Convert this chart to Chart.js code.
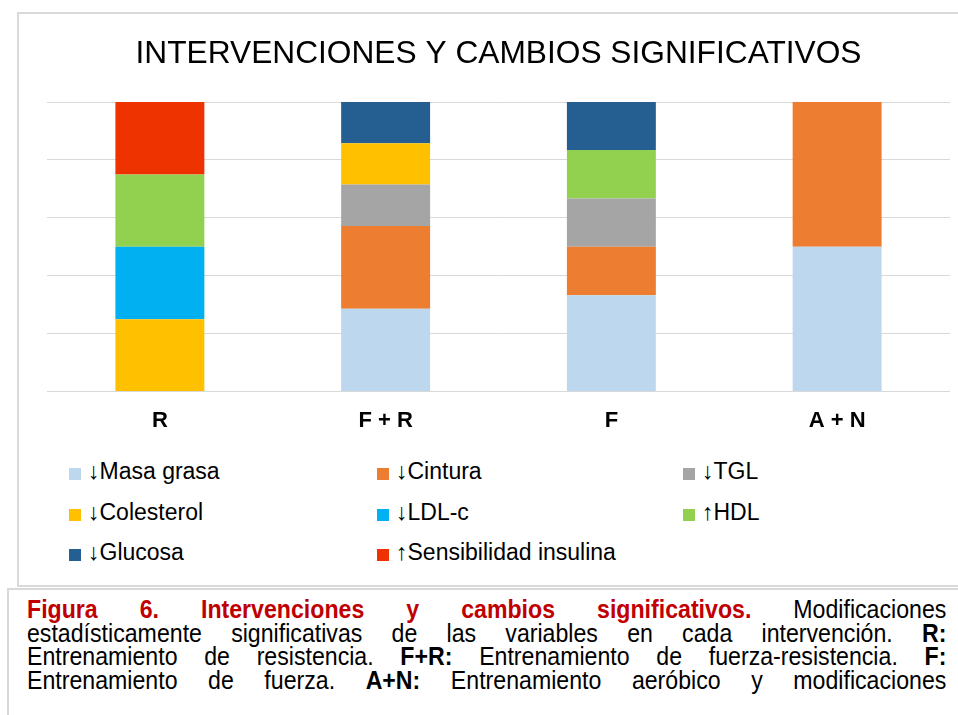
<!DOCTYPE html>
<html>
<head>
<meta charset="utf-8">
<title>Intervenciones y cambios significativos</title>
<script src="https://cdn.jsdelivr.net/npm/chart.js@4.4.1/dist/chart.umd.min.js"></script>
<style>
  html, body { margin: 0; padding: 0; background: #fff; overflow: hidden; }
  body { width: 958px; height: 715px; position: relative; font-family: "Liberation Sans", Arial, sans-serif; }
  #frame { position: absolute; left: 17px; top: 12px; width: 960px; height: 575px; border: 2px solid #d9d9d9; box-sizing: border-box; }
  #wrap { position: absolute; left: 0; top: 0; width: 958px; height: 451px; }
  #legend { position: absolute; left: 0; top: 451px; width: 958px; }
  .item { position: absolute; height: 40px; line-height: 40px; font-size: 23px; color: #000; white-space: nowrap; }
  .item i { display: inline-block; width: 12px; height: 12px; margin-right: 7px; vertical-align: -1px; }
  #caption { position: absolute; left: 7px; top: 588px; width: 980px; height: 140px; border: 2px solid #d9d9d9; box-sizing: border-box; }
  #caption p { margin: 0; position: absolute; left: 18px; top: 8px; width: 1033px; transform: scaleX(0.89); transform-origin: 0 0; font-size: 26px; line-height: 23.7px; color: #000; text-align: justify; text-align-last: justify; }
  #caption .red { color: #c00000; font-weight: bold; }
</style>
</head>
<body>
<div id="frame"></div>
<div id="wrap"><canvas id="barChart"></canvas></div>
<div id="legend"></div>
<div id="caption"><p><span class="red">Figura 6. Intervenciones y cambios significativos.</span> Modificaciones<br>estadísticamente significativas de las variables en cada intervención. <b>R:</b><br>Entrenamiento de resistencia. <b>F+R:</b> Entrenamiento de fuerza-resistencia. <b>F:</b><br>Entrenamiento de fuerza. <b>A+N:</b> Entrenamiento aeróbico y modificaciones</p></div>

<script>
// grupos de intervencion
var labels = ["R", "F + R", "F", "A + N"];

// porcentaje de cada variable dentro de cada barra
var masa_grasa   = [0, 28.6, 33.3, 50];
var cintura      = [0, 28.6, 16.7, 50];
var tgl          = [0, 14.3, 16.7, 0];
var colesterol   = [25, 14.3, 0, 0];
var ldl          = [25, 0, 0, 0];
var hdl          = [25, 0, 16.7, 0];
var glucosa      = [0, 14.3, 16.7, 0];
var sensibilidad = [25, 0, 0, 0];

var names = ["↓Masa grasa", "↓Cintura", "↓TGL", "↓Colesterol", "↓LDL-c", "↑HDL", "↓Glucosa", "↑Sensibilidad insulina"];
var colors = ["#bdd7ee", "#ed7d31", "#a5a5a5", "#ffc000", "#00b0f0", "#92d050", "#255e91", "#ee3300"];
var series = [masa_grasa, cintura, tgl, colesterol, ldl, hdl, glucosa, sensibilidad];

var datasets = [];
for (var i = 0; i < series.length; i++) {
	datasets.push({
		label: names[i],
		data: series[i],
		backgroundColor: colors[i],
		borderWidth: 0,
		barPercentage: 0.394,
		categoryPercentage: 1.0
	});
}

var ctx = document.getElementById("barChart").getContext("2d");
var chart = new Chart(ctx, {
	type: "bar",
	data: { labels: labels, datasets: datasets },
	options: {
		responsive: true,
		maintainAspectRatio: false,
		animation: false,
		layout: { padding: { left: 47, right: 8, top: 0, bottom: 9 } },
		plugins: {
			legend: { display: false },
			tooltip: { enabled: false },
			title: {
				display: true,
				text: "INTERVENCIONES Y CAMBIOS SIGNIFICATIVOS",
				color: "#000",
				font: { family: "'Liberation Sans', Arial, sans-serif", size: 31.7, weight: "normal" },
				padding: { top: 35, bottom: 29 }
			}
		},
		scales: {
			x: {
				stacked: true,
				grid: { display: false },
				border: { display: false },
				ticks: {
					color: "#000",
					padding: 8,
					font: { family: "'Liberation Sans', Arial, sans-serif", size: 22, weight: "bold" }
				}
			},
			y: {
				stacked: true,
				min: 0,
				max: 100,
				grid: { color: "#d9d9d9", lineWidth: 1, drawTicks: false },
				border: { display: false },
				ticks: { display: false, stepSize: 20 }
			}
		}
	}
});

// leyenda en tres columnas
var cols = [69, 377, 683];
var legend = document.getElementById("legend");
for (var k = 0; k < names.length; k++) {
	var div = document.createElement("div");
	div.className = "item";
	div.style.left = cols[k % 3] + "px";
	div.style.top = (Math.floor(k / 3) * 40.5) + "px";
	div.innerHTML = '<i style="background:' + colors[k] + '"></i>' + names[k];
	legend.appendChild(div);
}
</script>
</body>
</html>
